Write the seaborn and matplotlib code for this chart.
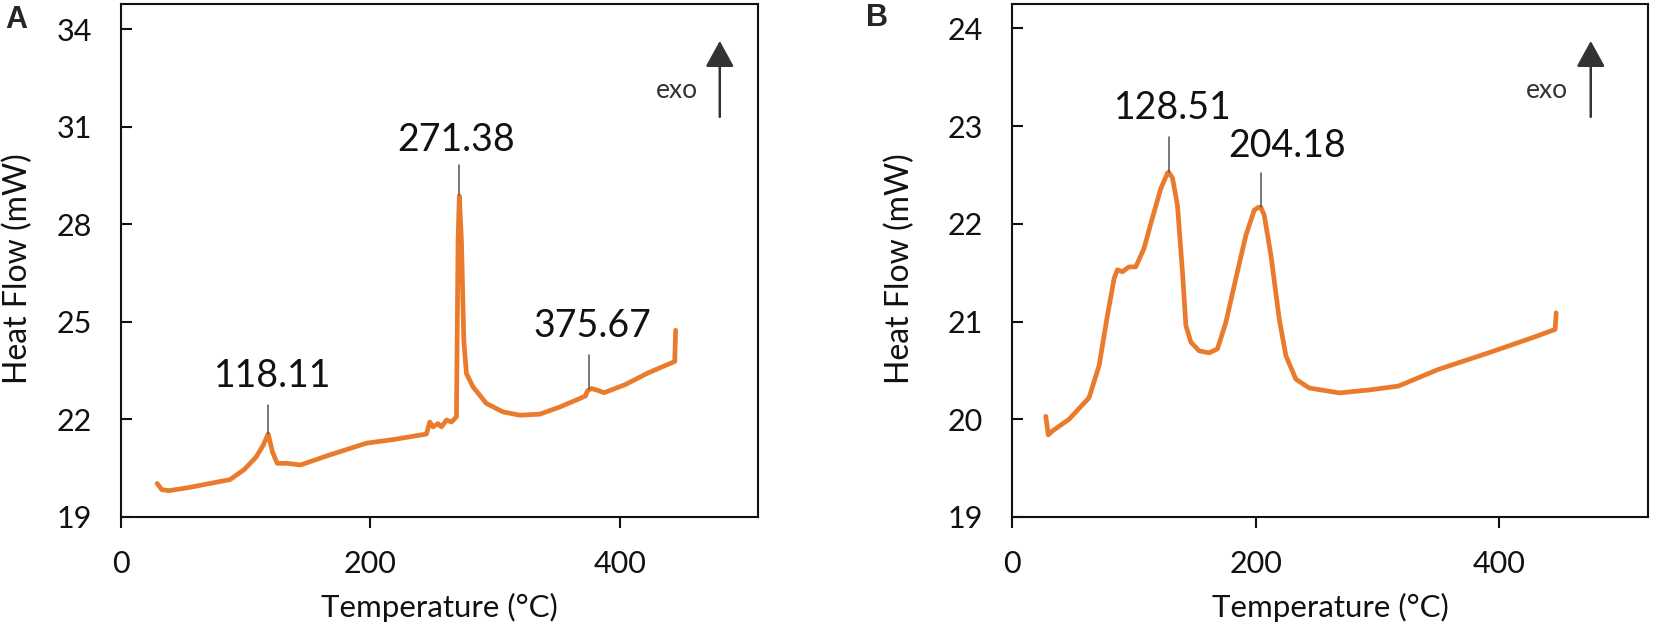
import matplotlib
matplotlib.use("Agg")
import matplotlib.pyplot as plt
import seaborn as sns
import pandas as pd

# ---------------- data ----------------
temp_a = [29, 32.8, 38.5, 53.6, 87.5, 98.9, 108.3, 114, 117.7, 118.1, 121.5, 125.3, 132.8, 144,
          166.8, 197, 218.3, 245.0, 247.7, 250.3, 254.3, 257.1, 261.1, 265.1, 269.1, 270.4,
          271.4, 273.1, 275.0, 277.1, 282.4, 293.1, 306.5, 319.8, 335.9, 351.9, 367.9, 372.5,
          374.3, 377.4, 381.9, 387.5, 404.5, 423.4, 444.2, 444.9]
flow_a = [20.03, 19.84, 19.81, 19.9, 20.15, 20.46, 20.84, 21.2, 21.52, 21.55, 21.0, 20.65, 20.65, 20.6,
          20.9, 21.27, 21.38, 21.55, 21.92, 21.77, 21.87, 21.77, 21.98, 21.92, 22.08, 27.5,
          28.87, 27.5, 24.43, 23.41, 23.0, 22.49, 22.23, 22.13, 22.16, 22.38, 22.64, 22.72,
          22.88, 22.95, 22.9, 22.82, 23.07, 23.44, 23.78, 24.74]

temp_b = [27.7, 29.8, 33.1, 46.8, 63.2, 71.5, 78.3, 83.8, 86.5, 90.6, 96.1, 101.6, 108.4, 115.2,
          122.1, 127.6, 128.5, 131.7, 135.8, 139.9, 142.7, 146.8, 153.6, 161.8, 168.6, 175.5,
          183.7, 191.9, 198.8, 202.3, 204.2, 207.0, 212.5, 219.3, 224.8, 233.0, 244.0, 268.6,
          293.2, 317.2, 349.9, 393.5, 428.3, 445.8, 446.6]
flow_b = [20.03, 19.84, 19.88, 20.0, 20.22, 20.55, 21.06, 21.44, 21.53, 21.51, 21.56, 21.56, 21.75,
          22.06, 22.36, 22.52, 22.53, 22.47, 22.19, 21.51, 20.96, 20.79, 20.70, 20.68, 20.72,
          20.99, 21.44, 21.88, 22.14, 22.17, 22.17, 22.09, 21.68, 21.03, 20.65, 20.41, 20.32,
          20.27, 20.30, 20.34, 20.51, 20.69, 20.84, 20.92, 21.09]

peaks_a = [118.11, 271.38, 375.67]
peak_top_a = [21.55, 28.9, 22.95]
leader_top_a = [22.45, 29.83, 23.97]
label_a = ["118.11", "271.38", "375.67"]
label_pos_a = [(122, 22.99), (268.7, 30.26), (378, 24.53)]

peaks_b = [128.51, 204.18]
peak_top_b = [22.53, 22.17]
leader_top_b = [22.89, 22.52]
label_b = ["128.51", "204.18"]
label_pos_b = [(132, 23.07), (225.7, 22.68)]

yticks_a = [19, 22, 25, 28, 31, 34]
yticks_b = [19, 20, 21, 22, 23, 24]
xticks = [0, 200, 400]

# ---------------- style ----------------
sns.set_style("ticks")
plt.rcParams['font.family'] = ['Lato', 'DejaVu Sans']

ORANGE = "#EA7A2C"
INK = "#111111"
fig = plt.figure(figsize=(16.55, 6.32), dpi=100)
axA = fig.add_axes([121/1655, 1-517/632, 637/1655, 513/632])
axB = fig.add_axes([1012/1655, 1-517/632, 636/1655, 513/632])

dfA = pd.DataFrame({"Temperature": temp_a, "Heat Flow": flow_a})
dfB = pd.DataFrame({"Temperature": temp_b, "Heat Flow": flow_b})

for ax, df in [(axA, dfA), (axB, dfB)]:
    sns.lineplot(data=df, x="Temperature", y="Heat Flow", ax=ax, color=ORANGE, lw=3.4,
                 sort=False, estimator=None, solid_joinstyle="round", solid_capstyle="round")


def style_axis(ax, yticks, ylim, xlim, ylab_x):
    ax.set_xlim(*xlim)
    ax.set_ylim(*ylim)
    ax.set_xticks(xticks)
    ax.set_yticks(yticks)
    for s in ax.spines.values():
        s.set_visible(True)
        s.set_linewidth(1.5)
        s.set_color(INK)
    ax.tick_params(axis='y', direction='in', length=8, width=1.5, pad=21,
                   labelsize=22, colors=INK)
    ax.tick_params(axis='x', direction='out', length=8, width=1.5, pad=16,
                   labelsize=22, colors=INK)
    ax.set_xlabel("Temperature (°C)", fontsize=22.5, color=INK)
    ax.set_ylabel("Heat Flow (mW)", fontsize=23, color=INK)
    ax.xaxis.set_label_coords(0.5, -0.148)
    ax.yaxis.set_label_coords(ylab_x, 0.485)


style_axis(axA, yticks_a, (19, 34.77), (0, 511), -0.138)
style_axis(axB, yticks_b, (19, 24.25), (0, 522), -0.153)


def annotate(ax, xs, tops, leaders, labels, positions):
    for x, t, lt, lab, (tx, ty) in zip(xs, tops, leaders, labels, positions):
        ax.plot([x, x], [t, lt], color="#555555", lw=1.1)
        ax.text(tx, ty, lab, ha="center", va="baseline", fontsize=27, color=INK)


annotate(axA, peaks_a, peak_top_a, leader_top_a, label_a, label_pos_a)
annotate(axB, peaks_b, peak_top_b, leader_top_b, label_b, label_pos_b)

for ax, ax_x, exo_x in [(axA, 0.940, 0.873), (axB, 0.910, 0.841)]:
    ax.annotate("", xy=(ax_x, 0.928), xytext=(ax_x, 0.78), xycoords="axes fraction",
                arrowprops=dict(arrowstyle="-|>,head_length=1.0,head_width=0.55",
                                mutation_scale=16, color="#333333", lw=1.8,
                                shrinkA=0, shrinkB=0))
    ax.text(exo_x, 0.832, "exo", transform=ax.transAxes, ha="center", va="center",
            fontsize=19, color="#333333")

fig.text(16/1655, 1-20/632, "A", fontsize=22, fontweight="bold", ha="center", va="center",
         family="Liberation Sans")
fig.text(877/1655, 1-18/632, "B", fontsize=22, fontweight="bold", ha="center", va="center",
         family="Liberation Sans")

fig.savefig("out.png", dpi=100)
